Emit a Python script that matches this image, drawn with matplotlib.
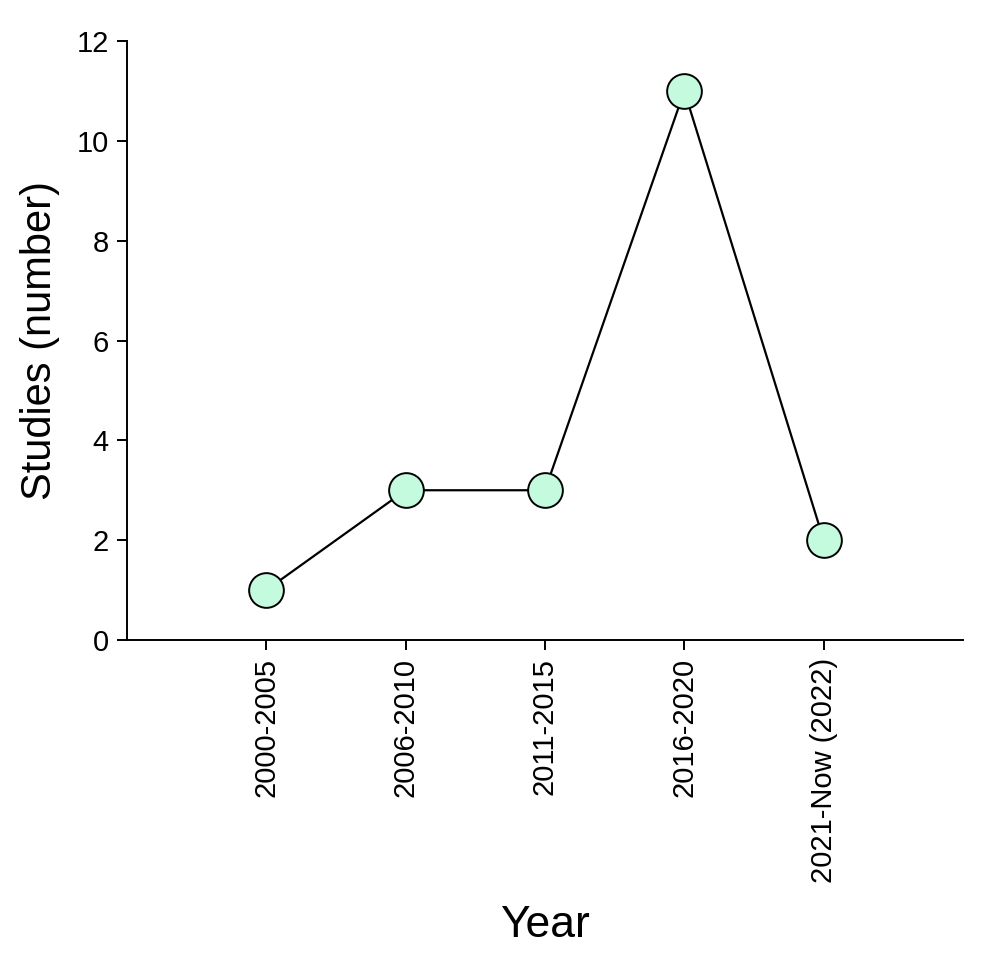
import matplotlib
matplotlib.use('Agg')
import matplotlib.pyplot as plt

periods = ['2000-2005', '2006-2010', '2011-2015', '2016-2020', '2021-Now (2022)']
studies = [1, 3, 3, 11, 2]

plt.rcParams['font.family'] = ['Liberation Sans', 'DejaVu Sans']

fig = plt.figure(figsize=(10, 9.66), dpi=100)
ax = fig.add_axes([0.127, 0.3375, 0.836, 0.62])

x = list(range(1, len(periods) + 1))
ax.plot(x, studies, color='black', linewidth=1.6, marker='o', markersize=25,
        markerfacecolor='#c4fbdf', markeredgecolor='black', markeredgewidth=1.4,
        clip_on=False, zorder=3)

ax.set_xlim(0, 6)
ax.set_ylim(0, 12)
ax.set_yticks(range(0, 13, 2))
ax.set_xticks(x)
ax.set_xticklabels(periods, rotation=90)

for side in ['top', 'right']:
    ax.spines[side].set_visible(False)
for side in ['left', 'bottom']:
    ax.spines[side].set_linewidth(1.4)

ax.tick_params(axis='both', direction='out', length=7, width=1.4, labelsize=21)
ax.tick_params(axis='x', pad=6)
ax.tick_params(axis='y', pad=6)

ax.set_ylabel('Studies (number)', fontsize=30, labelpad=12)
ax.set_xlabel('Year', fontsize=32, labelpad=16)

fig.savefig('out.png', dpi=100)
